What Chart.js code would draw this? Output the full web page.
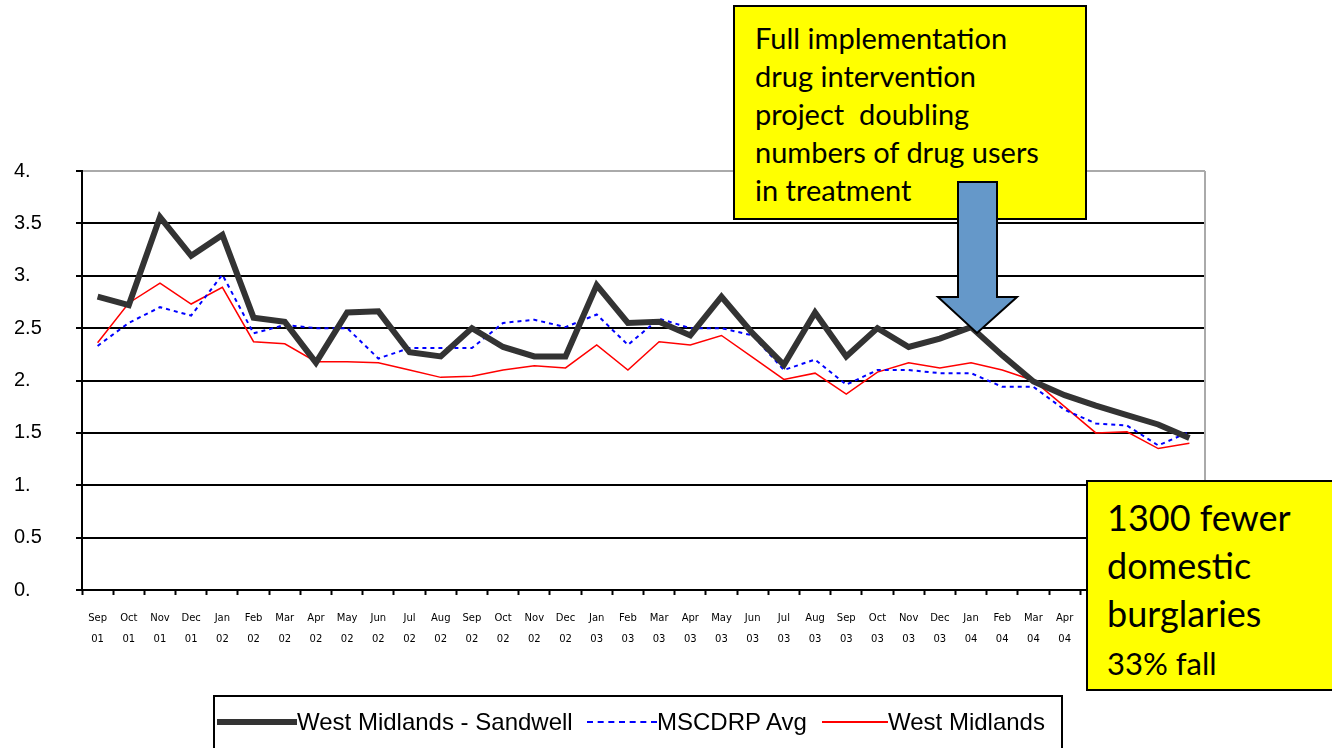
<!DOCTYPE html>
<html>
<head>
    <title>Domestic burglary rate</title>
    <meta charset="utf-8">
    <script src="https://cdn.jsdelivr.net/npm/chart.js"></script>
    <style>
        html, body {
            margin: 0;
            padding: 0;
            background: #ffffff;
        }
        #wrap {
            position: relative;
            width: 1332px;
            height: 748px;
            overflow: hidden;
        }
        #chart-box {
            position: absolute;
            left: 0;
            top: 0;
            width: 1332px;
            height: 748px;
        }
        .note {
            position: absolute;
            background: #ffff00;
            border: 2px solid #000;
            box-sizing: border-box;
            font-family: Lato, "Open Sans", sans-serif;
            color: #000;
        }
        #note-top {
            left: 733px;
            top: 5px;
            width: 354px;
            height: 215px;
            padding: 12px 0 0 20px;
            font-size: 29px;
            line-height: 38px;
            white-space: pre;
        }
        #note-bottom {
            left: 1086px;
            top: 480px;
            width: 260px;
            height: 211px;
            padding: 11px 0 0 19px;
            font-size: 36px;
            line-height: 48px;
        }
        #note-bottom .small {
            font-size: 31px;
            line-height: 44px;
        }
        #arrow {
            position: absolute;
            left: 0;
            top: 0;
        }
        #legend {
            position: absolute;
            left: 213px;
            top: 695px;
            width: 850px;
            height: 70px;
            border: 2px solid #000;
            box-sizing: border-box;
            font-family: "Liberation Sans", Arial, sans-serif;
            font-size: 24px;
            color: #000;
        }
        #legend .item {
            position: absolute;
            top: 11px;
            white-space: nowrap;
        }
        #legend .swatch {
            display: inline-block;
            vertical-align: middle;
            margin-top: -4px;
        }
    </style>
</head>
<body>
    <div id="wrap">
        <div id="chart-box"><canvas id="burglary"></canvas></div>
        <div id="legend"></div>
        <div class="note" id="note-top">Full implementation
drug intervention
project  doubling
numbers of drug users
in treatment</div>
        <svg id="arrow" width="1332" height="748">
            <polygon points="958,182 997,182 997,297 1017,297 977,333 938,297 958,297"
                fill="#6598c9" stroke="#000" stroke-width="2"/>
        </svg>
        <div class="note" id="note-bottom">1300 fewer<br>domestic<br>burglaries<br><span class="small">33% fall</span></div>
    </div>
    <script>
        // months Sep 01 .. Aug 04
        var months = ['Sep', 'Oct', 'Nov', 'Dec', 'Jan', 'Feb', 'Mar', 'Apr', 'May', 'Jun', 'Jul', 'Aug',
            'Sep', 'Oct', 'Nov', 'Dec', 'Jan', 'Feb', 'Mar', 'Apr', 'May', 'Jun', 'Jul', 'Aug',
            'Sep', 'Oct', 'Nov', 'Dec', 'Jan', 'Feb', 'Mar', 'Apr', 'May', 'Jun', 'Jul', 'Aug'];
        var years = ['01', '01', '01', '01', '02', '02', '02', '02', '02', '02', '02', '02',
            '02', '02', '02', '02', '03', '03', '03', '03', '03', '03', '03', '03',
            '03', '03', '03', '03', '04', '04', '04', '04', '04', '04', '04', '04'];

        var sandwell = [2.80, 2.72, 3.56, 3.19, 3.39, 2.60, 2.56, 2.17, 2.65, 2.66, 2.27, 2.23,
            2.50, 2.32, 2.23, 2.23, 2.91, 2.55, 2.56, 2.43, 2.80, 2.45, 2.15, 2.65,
            2.23, 2.50, 2.32, 2.40, 2.51, 2.24, 1.99, 1.86, 1.76, 1.67, 1.58, 1.45];
        var mscdrp = [2.33, 2.55, 2.70, 2.62, 3.01, 2.45, 2.53, 2.50, 2.50, 2.21, 2.31, 2.31,
            2.31, 2.55, 2.58, 2.51, 2.63, 2.34, 2.59, 2.50, 2.50, 2.43, 2.10, 2.20,
            1.96, 2.10, 2.10, 2.07, 2.07, 1.94, 1.94, 1.72, 1.59, 1.57, 1.38, 1.51];
        var westMidlands = [2.36, 2.74, 2.93, 2.73, 2.89, 2.37, 2.35, 2.18, 2.18, 2.17, 2.10, 2.03,
            2.04, 2.10, 2.14, 2.12, 2.34, 2.10, 2.37, 2.34, 2.43, 2.22, 2.01, 2.07,
            1.87, 2.08, 2.17, 2.12, 2.17, 2.10, 2.00, 1.75, 1.50, 1.51, 1.35, 1.40];

        var labels = months.map(function (m, i) {
            return [m, years[i]];
        });

        var seriesInfo = [
            { label: 'West Midlands - Sandwell', data: sandwell, color: '#333333', width: 6, dash: [] },
            { label: 'MSCDRP Avg', data: mscdrp, color: '#0000ff', width: 2, dash: [4, 4] },
            { label: 'West Midlands', data: westMidlands, color: '#ff0000', width: 1.5, dash: [] }
        ];

        // gray frame on the right of the plot
        var framePlugin = {
            id: 'frame',
            beforeDatasetsDraw: function (chart) {
                var a = chart.chartArea;
                var c = chart.ctx;
                c.save();
                c.strokeStyle = '#aaaaaa';
                c.lineWidth = 2;
                c.beginPath();
                c.moveTo(a.right, a.top);
                c.lineTo(a.right, a.bottom);
                c.stroke();
                c.restore();
            }
        };

        var ctx = document.getElementById('burglary').getContext('2d');
        var chart = new Chart(ctx, {
            type: 'line',
            data: {
                labels: labels,
                datasets: seriesInfo.map(function (s) {
                    return {
                        label: s.label,
                        data: s.data,
                        borderColor: s.color,
                        backgroundColor: s.color,
                        borderWidth: s.width,
                        borderDash: s.dash,
                        pointRadius: 0,
                        tension: 0,
                        fill: false
                    };
                })
            },
            options: {
                responsive: true,
                maintainAspectRatio: false,
                animation: false,
                layout: {
                    padding: { left: 14, top: 171, right: 127, bottom: 0 }
                },
                plugins: {
                    legend: { display: false },
                    tooltip: { enabled: false }
                },
                scales: {
                    x: {
                        offset: true,
                        afterFit: function (scale) { scale.height = 158; },
                        grid: {
                            offset: true,
                            drawOnChartArea: false,
                            drawTicks: true,
                            tickLength: 5,
                            tickWidth: 2,
                            color: '#000'
                        },
                        border: { color: '#000', width: 2 },
                        ticks: {
                            autoSkip: false,
                            maxRotation: 0,
                            padding: 13,
                            color: '#000',
                            font: { family: 'DejaVu Sans', size: 10, lineHeight: 2.1 }
                        }
                    },
                    y: {
                        min: 0,
                        max: 4,
                        afterFit: function (scale) { scale.width = 68; },
                        grid: {
                            color: function (c) { return c.tick && c.tick.value === 4 ? '#aaaaaa' : '#000'; },
                            lineWidth: 2,
                            tickLength: 6,
                            tickColor: '#000'
                        },
                        border: { color: '#000', width: 2 },
                        ticks: {
                            stepSize: 0.5,
                            crossAlign: 'far',
                            color: '#000',
                            font: { family: 'Liberation Sans', size: 20 },
                            callback: function (v) {
                                return Number.isInteger(v) ? v + '.' : String(v);
                            }
                        }
                    }
                }
            },
            plugins: [framePlugin]
        });

        // legend in a box under the chart
        var legend = document.getElementById('legend');
        var positions = [2, 372, 607];
        var swatchW = [80, 70, 66];
        var swatchH = [6, 2, 2];
        seriesInfo.forEach(function (s, i) {
            var item = document.createElement('span');
            item.className = 'item';
            item.style.left = positions[i] + 'px';
            var sw = document.createElement('span');
            sw.className = 'swatch';
            sw.style.width = swatchW[i] + 'px';
            sw.style.borderTop = swatchH[i] + 'px ' + (s.dash.length ? 'dashed ' : 'solid ') + s.color;
            item.appendChild(sw);
            item.appendChild(document.createTextNode(s.label));
            legend.appendChild(item);
        });
    </script>
</body>
</html>
